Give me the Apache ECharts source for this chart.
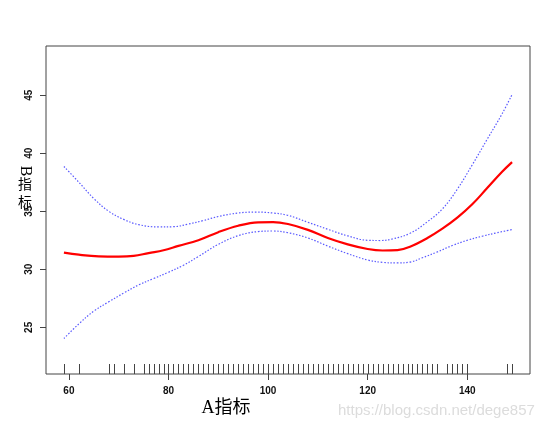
<!DOCTYPE html>
<html>
<head>
<meta charset="utf-8">
<script src="https://cdn.jsdelivr.net/npm/echarts@6/dist/echarts.min.js"></script>
<style>html,body{margin:0;padding:0;background:#fff}#c{width:554px;height:431px}</style>
</head>
<body>
<div id="c"></div>
<script>
// x values of fitted curve sample points and values
const fitX = [59, 62, 66, 70, 73, 76, 79, 82, 86, 90, 94, 98, 101, 104, 108, 112, 116, 120, 123, 126, 128.5, 132, 135, 138, 141, 144, 147, 149];
const fitY = [31.44, 31.26, 31.12, 31.1, 31.15, 31.4, 31.64, 32.02, 32.5, 33.2, 33.75, 34.05, 34.07, 33.9, 33.4, 32.7, 32.15, 31.75, 31.62, 31.66, 31.95, 32.7, 33.5, 34.45, 35.6, 37.0, 38.4, 39.23];

const upperX = [59, 62, 65, 68, 71, 74, 78, 81, 84, 87, 90, 94, 97.5, 101, 104, 108, 112, 116, 120, 122.5, 125, 128.5, 132, 135, 138, 141, 144, 147, 149];
const upperY = [38.86, 37.5, 36.1, 35.0, 34.3, 33.85, 33.65, 33.67, 33.9, 34.2, 34.55, 34.85, 34.93, 34.85, 34.65, 34.05, 33.45, 32.88, 32.5, 32.48, 32.62, 33.1, 34.1, 35.2, 36.9, 39.0, 41.2, 43.4, 45.06];

const lowerX = [59, 62, 65, 68, 71, 74, 77, 80, 83, 86, 90, 94, 98, 101, 104, 108, 112, 116, 120, 123, 126, 128.5, 131, 134, 137, 140, 143, 146, 149];
const lowerY = [24.04, 25.3, 26.4, 27.2, 27.95, 28.65, 29.2, 29.75, 30.35, 31.1, 32.15, 32.9, 33.25, 33.3, 33.15, 32.7, 32.0, 31.35, 30.8, 30.6, 30.55, 30.62, 31.0, 31.5, 32.05, 32.5, 32.85, 33.15, 33.42];

// rug (observed A values)
const rugX = [59, 62, 68, 69, 71, 73];
for (let v = 75; v <= 134; v++) rugX.push(v);
rugX.push(136, 137, 138, 139, 140, 148, 149);

const xTicks = [60, 80, 100, 120, 140];
const yTicks = [25, 30, 35, 40, 45];
const xRange = [55.4, 152.6];
const yRange = [20.98, 49.24];

const pair = (xs, ys) => xs.map((x, i) => [x, ys[i]]);

const chart = echarts.init(document.getElementById('c'), null, {renderer: 'canvas'});
const tickFont = {fontFamily: 'Liberation Sans, Arial, sans-serif', fontSize: 10, fontWeight: 'bold', color: '#111'};

chart.setOption({
  animation: false,
  backgroundColor: '#fff',
  grid: {left: 46, right: 24, top: 46, bottom: 57, show: true, borderColor: '#444', borderWidth: 1, backgroundColor: 'transparent'},
  xAxis: {
    type: 'value', min: xRange[0], max: xRange[1],
    axisLine: {show: false},
    splitLine: {show: false},
    axisTick: {show: true, inside: false, length: 6, customValues: xTicks, lineStyle: {color: '#444'}},
    axisLabel: Object.assign({margin: 12, customValues: xTicks}, tickFont)
  },
  yAxis: {
    type: 'value', min: yRange[0], max: yRange[1],
    axisLine: {show: false},
    splitLine: {show: false},
    axisTick: {show: true, inside: false, length: 6, customValues: yTicks, lineStyle: {color: '#444'}},
    axisLabel: Object.assign({margin: 12, rotate: 90, customValues: yTicks}, tickFont)
  },
  series: [
    {type: 'line', data: pair(upperX, upperY), smooth: 0.4, showSymbol: false, symbol: 'none',
     lineStyle: {color: '#5a5aff', width: 1.2, type: [1.5, 1.7]}},
    {type: 'line', data: pair(lowerX, lowerY), smooth: 0.4, showSymbol: false, symbol: 'none',
     lineStyle: {color: '#5a5aff', width: 1.2, type: [1.5, 1.7]}},
    {type: 'line', data: pair(fitX, fitY), smooth: 0.4, showSymbol: false, symbol: 'none',
     lineStyle: {color: '#ff0000', width: 2.2}},
    {type: 'custom', data: rugX.map(v => [v]), silent: true,
     renderItem: function (params, api) {
       const p = api.coord([api.value(0), yRange[0]]);
       const x = Math.round(p[0]) + 0.5;
       return {type: 'line', shape: {x1: x, y1: p[1], x2: x, y2: p[1] - 10}, style: {stroke: '#444', lineWidth: 1}};
     }}
  ],
  graphic: [
    {type: 'text', x: 226, y: 408, rotation: 0, style: {text: 'A指标', font: '18px "Liberation Serif", "Noto Sans CJK SC", serif', fill: '#000', align: 'center', verticalAlign: 'middle'}},
    {type: 'text', x: 25, y: 171, rotation: -Math.PI / 2, style: {text: 'B', font: '16px "Liberation Serif", serif', fill: '#000', align: 'center', verticalAlign: 'middle'}},
    {type: 'text', x: 25, y: 184, rotation: 0, style: {text: '指', font: '14px "Noto Sans CJK SC", sans-serif', fill: '#000', align: 'center', verticalAlign: 'middle'}},
    {type: 'text', x: 25, y: 202, rotation: 0, style: {text: '标', font: '14px "Noto Sans CJK SC", sans-serif', fill: '#000', align: 'center', verticalAlign: 'middle'}},
    {type: 'text', x: 338, y: 411, rotation: 0, style: {text: 'https://blog.csdn.net/dege857', font: '15px "Liberation Sans", Arial, sans-serif', fill: '#dcdcdc', align: 'left', verticalAlign: 'middle'}}
  ]
});
</script>
</body>
</html>
